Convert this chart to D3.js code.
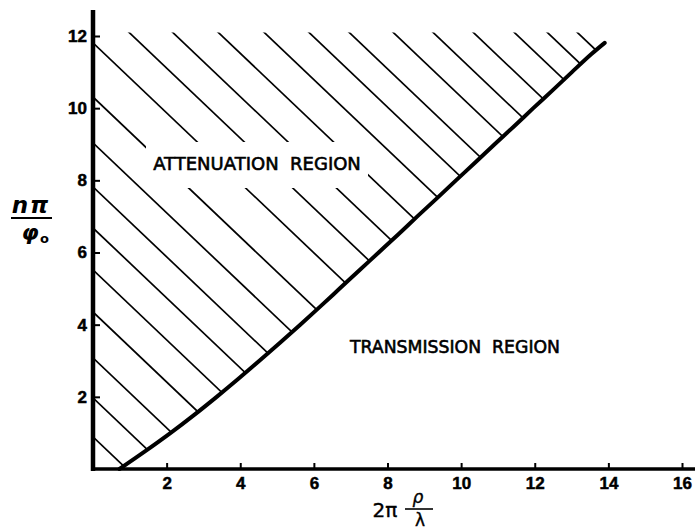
<!DOCTYPE html>
<html>
<head>
<meta charset="utf-8">
<script src="https://cdn.jsdelivr.net/npm/d3@7"></script>
<style>
  html, body { margin: 0; padding: 0; background: #fff; }
  svg { display: block; }
  .region { font-family: "DejaVu Sans", sans-serif; font-size: 18px; fill: #000; stroke: #000; stroke-width: 0.6px; white-space: pre; }
</style>
</head>
<body>
<svg id="chart" width="695" height="531"></svg>
<script>
// Cutoff boundary between the attenuation and transmission regions (x as a function of y)
const boundaryY = [0, 0.5, 1, 1.5, 2, 2.5, 3, 3.5, 4, 4.5, 5, 5.5, 6, 6.5, 7, 7.5,
                   8, 8.5, 9, 9.5, 10, 10.5, 11, 11.5, 11.81];
const boundaryX = [0.72, 1.43, 2.11, 2.75, 3.36, 3.95, 4.52, 5.08, 5.63, 6.17, 6.70, 7.23,
                   7.76, 8.29, 8.81, 9.34, 9.86, 10.39, 10.91, 11.44, 11.96, 12.49, 13.01, 13.54, 13.90];

// Hatching: y-intercepts of the parallel hatch lines and their slope
const hatchIntercepts = [0.89, 1.97, 3.08, 4.35, 5.52, 6.68, 7.82, 9.04, 10.31, 11.81,
                         13.05, 14.20, 15.40, 16.61, 17.79, 18.85, 20.01, 21.06, 22.12, 23.20, 24.07, 24.86];
const hatchSlope = 0.97;
const hatchTop = 12.1;

const xTicks = [2, 4, 6, 8, 10, 12, 14, 16];
const yTicks = [2, 4, 6, 8, 10, 12];

const W = 695, H = 531;
const svg = d3.select("#chart");

const x = d3.scaleLinear().domain([0, 16]).range([93, 682]);
const y = d3.scaleLinear().domain([0, 12]).range([469, 36]);

const boundary = boundaryX.map((v, i) => [v, boundaryY[i]]);
const line = d3.line().x(d => x(d[0])).y(d => y(d[1])).curve(d3.curveCatmullRom);

// Clip region: between the y axis, the top of the hatching and the boundary curve
const last = boundary[boundary.length - 1];
const clipD = line(boundary) +
  `L${x(last[0])},${y(hatchTop)}L${x(0)},${y(hatchTop)}L${x(0)},${y(0)}Z`;
svg.append("defs").append("clipPath").attr("id", "atten")
  .append("path").attr("d", clipD);

const hatch = svg.append("g").attr("clip-path", "url(#atten)");
hatch.selectAll("line").data(hatchIntercepts).join("line")
  .attr("x1", x(-0.5)).attr("y1", b => y(b + hatchSlope * 0.5))
  .attr("x2", b => x(b / hatchSlope + 0.5)).attr("y2", b => y(-hatchSlope * 0.5))
  .attr("stroke", "#000").attr("stroke-width", 1.7);

// Clear the hatching behind the region label
const attenLabel = { cx: 257, base: 170 };
svg.append("rect")
  .attr("x", attenLabel.cx - 111).attr("y", attenLabel.base - 28)
  .attr("width", 222).attr("height", 46).attr("fill", "#fff");

// Boundary curve
svg.append("path").attr("d", line(boundary))
  .attr("fill", "none").attr("stroke", "#000").attr("stroke-width", 4).attr("stroke-linecap", "round");

// Axes
function styleAxis(g) {
  g.select(".domain").remove();
  g.selectAll(".tick line").attr("stroke", "#000").attr("stroke-width", 2);
  g.selectAll(".tick text")
    .attr("font-family", "Liberation Sans, Arial, sans-serif")
    .attr("font-weight", "bold").attr("font-size", 17)
    .attr("fill", "#000").attr("stroke", "#000").attr("stroke-width", 0.5);
}
const xAxis = d3.axisBottom(x).tickValues(xTicks).tickSize(-6).tickPadding(8).tickFormat(d3.format("d"));
svg.append("g").attr("transform", `translate(0,${y(0)})`).call(xAxis).call(styleAxis);

const yAxis = d3.axisLeft(y).tickValues(yTicks).tickSize(-7).tickPadding(6).tickFormat(d3.format("d"));
svg.append("g").attr("transform", `translate(${x(0)},0)`).call(yAxis).call(styleAxis);

svg.append("line").attr("x1", x(0) - 2).attr("x2", W).attr("y1", y(0)).attr("y2", y(0))
  .attr("stroke", "#000").attr("stroke-width", 3.5);
svg.append("line").attr("x1", x(0)).attr("x2", x(0)).attr("y1", y(0) + 2).attr("y2", 10)
  .attr("stroke", "#000").attr("stroke-width", 4.5);

// Region labels
svg.append("text").attr("class", "region").attr("x", attenLabel.cx).attr("y", attenLabel.base)
  .attr("text-anchor", "middle").text("ATTENUATION  REGION");
svg.append("text").attr("class", "region").attr("x", 455).attr("y", 353)
  .attr("text-anchor", "middle").attr("textLength", 210).attr("lengthAdjust", "spacingAndGlyphs")
  .text("TRANSMISSION  REGION");

// Y axis title: nπ / φ₀
const ty = svg.append("g").attr("font-family", "DejaVu Sans, sans-serif").attr("font-weight", "bold")
  .attr("font-style", "italic").attr("fill", "#000");
ty.append("text").attr("x", 31).attr("y", 213).attr("text-anchor", "middle")
  .attr("font-size", 23).attr("letter-spacing", 2).text("nπ");
ty.append("line").attr("x1", 11).attr("x2", 52).attr("y1", 218).attr("y2", 218)
  .attr("stroke", "#000").attr("stroke-width", 2);
ty.append("text").attr("x", 30).attr("y", 240).attr("text-anchor", "middle")
  .attr("font-size", 22).text("φ");
ty.append("text").attr("x", 40).attr("y", 243).attr("font-size", 13).attr("font-style", "normal").text("o");

// X axis title: 2π ρ/λ
const tx = svg.append("g").attr("font-family", "DejaVu Sans, sans-serif").attr("fill", "#000")
  .attr("stroke", "#000").attr("stroke-width", 0.4);
tx.append("text").attr("x", 385).attr("y", 517).attr("text-anchor", "middle")
  .attr("font-size", 20).text("2π");
tx.append("text").attr("x", 418).attr("y", 503).attr("text-anchor", "middle")
  .attr("font-size", 17).attr("font-style", "italic").text("ρ");
tx.append("line").attr("x1", 405).attr("x2", 433).attr("y1", 509).attr("y2", 509)
  .attr("stroke", "#000").attr("stroke-width", 1.6);
tx.append("text").attr("x", 420).attr("y", 526).attr("text-anchor", "middle")
  .attr("font-size", 17).text("λ");
</script>
</body>
</html>
